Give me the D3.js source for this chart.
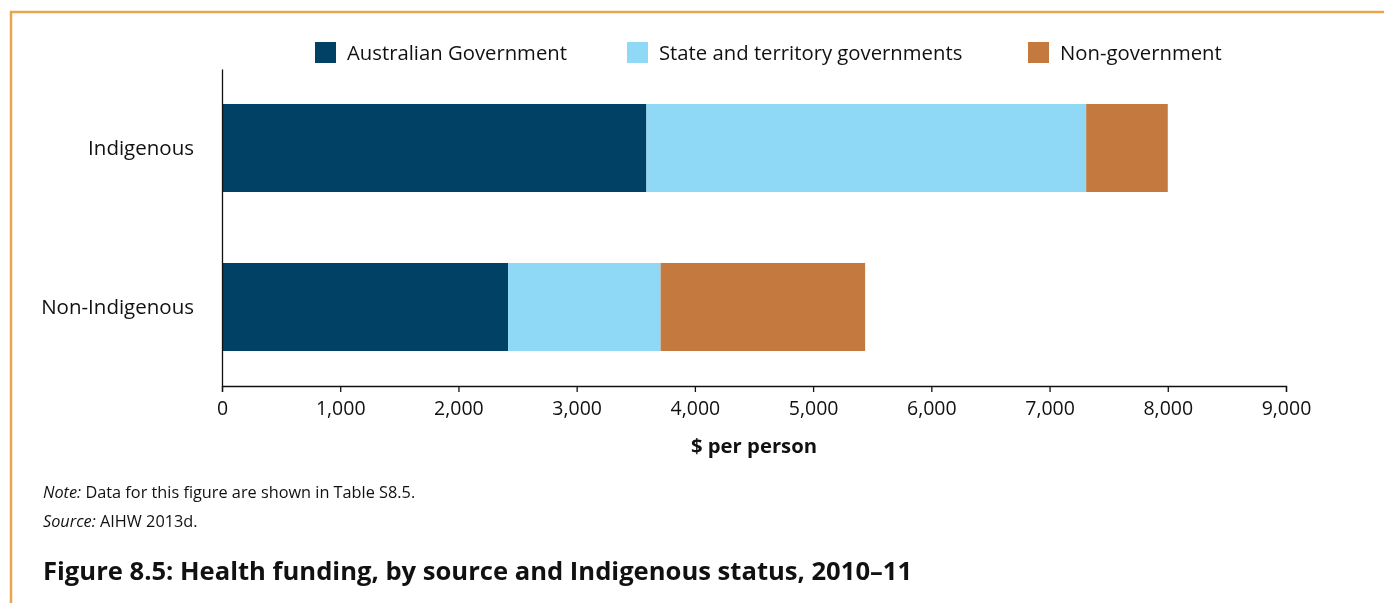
<!DOCTYPE html>
<head>
  <meta charset="utf-8">
  <script src="https://d3js.org/d3.v7.min.js"></script>
  <style>
    body {
      margin:0;position:fixed;top:0;right:0;bottom:0;left:0;
      font-family: "Open Sans", sans-serif;
      background-color: white;
    }
    .xaxis text, .yaxis text {
      font-family: "Open Sans", sans-serif;
      fill: #111;
    }
  </style>
</head>

<body>
  <script>
    // chart data
    var categories = ["Indigenous", "Non-Indigenous"];
    var series = ["Australian Government", "State and territory governments", "Non-government"];
    var australianGov = [3590, 2420];
    var stateGov = [3720, 1290];
    var nonGov = [690, 1730];
    var xTicks = [0, 1000, 2000, 3000, 4000, 5000, 6000, 7000, 8000, 9000];

    var colors = ["#004165", "#8fd9f7", "#c47a3e"];

    var svg = d3.select("body").append("svg")
      .attr("width", 1384)
      .attr("height", 603)

    // orange frame (top + left)
    svg.append("path")
      .attr("d", "M11,603 L11,12 L1384,12")
      .attr("fill", "none")
      .attr("stroke", "#e9a54d")
      .attr("stroke-width", 2.5)

    var x = d3.scaleLinear()
      .domain([0, 9000])
      .range([222, 1286])

    var y = d3.scaleBand()
      .domain(categories)
      .range([69, 386])
      .paddingInner(0.4465)
      .paddingOuter(0.22)

    var data = categories.map(function(c, i) {
      return {cat: c, "Australian Government": australianGov[i],
        "State and territory governments": stateGov[i], "Non-government": nonGov[i]};
    })

    var stacked = d3.stack().keys(series)(data);

    svg.selectAll(".layer").data(stacked).enter()
      .append("g")
      .attr("class", "layer")
      .attr("fill", function(d, i) {return colors[i]})
      .selectAll("rect").data(function(d) {return d}).enter()
      .append("rect")
      .attr("x", function(d) {return x(d[0])})
      .attr("y", function(d) {return y(d.data.cat)})
      .attr("width", function(d) {return x(d[1]) - x(d[0])})
      .attr("height", y.bandwidth())

    var xAxis = d3.axisBottom(x)
      .tickValues(xTicks)
      .tickFormat(d3.format(","))
      .tickSizeInner(6)
      .tickSizeOuter(6)
      .tickPadding(9)

    svg.append("g")
      .attr("class", "xaxis")
      .attr("transform", "translate(0,386)")
      .call(xAxis)
      .call(function(g) {
        g.selectAll("text").style("font-size", "19.5px")
        g.selectAll("line, path").attr("stroke", "#111").attr("stroke-width", 1.3)
      })

    var yAxis = d3.axisLeft(y)
      .tickSize(0)
      .tickPadding(28)

    svg.append("g")
      .attr("class", "yaxis")
      .attr("transform", "translate(222,0)")
      .call(yAxis)
      .call(function(g) {
        g.selectAll("text").style("font-size", "20.5px")
        g.select(".domain").attr("stroke", "#111").attr("stroke-width", 1.3)
      })

    svg.append("text")
      .attr("x", 754)
      .attr("y", 453)
      .attr("text-anchor", "middle")
      .style("font-size", "20.3px")
      .style("font-weight", "bold")
      .style("fill", "#111")
      .text("$ per person")

    // legend
    var legendX = [315, 627, 1028];
    var legend = svg.selectAll(".legend").data(series).enter()
      .append("g")
      .attr("class", "legend")
      .attr("transform", function(d, i) {return "translate(" + legendX[i] + ",42)"})

    legend.append("rect")
      .attr("width", 21)
      .attr("height", 21)
      .attr("fill", function(d, i) {return colors[i]})

    legend.append("text")
      .attr("x", 32)
      .attr("y", 18)
      .style("font-size", "20.3px")
      .style("fill", "#111")
      .text(function(d) {return d})

    // notes and title
    var note = svg.append("text")
      .attr("x", 43)
      .attr("y", 498)
      .style("font-size", "16.3px")
      .style("fill", "#111")
    note.append("tspan").style("font-style", "italic").text("Note:")
    note.append("tspan").text(" Data for this figure are shown in Table S8.5.")

    var source = svg.append("text")
      .attr("x", 43)
      .attr("y", 527)
      .style("font-size", "16.3px")
      .style("fill", "#111")
    source.append("tspan").style("font-style", "italic").text("Source:")
    source.append("tspan").text(" AIHW 2013d.")

    svg.append("text")
      .attr("x", 43)
      .attr("y", 580)
      .style("font-size", "25.6px")
      .style("font-weight", "bold")
      .style("fill", "#111")
      .text("Figure 8.5: Health funding, by source and Indigenous status, 2010\u201311")
  </script>
</body>
